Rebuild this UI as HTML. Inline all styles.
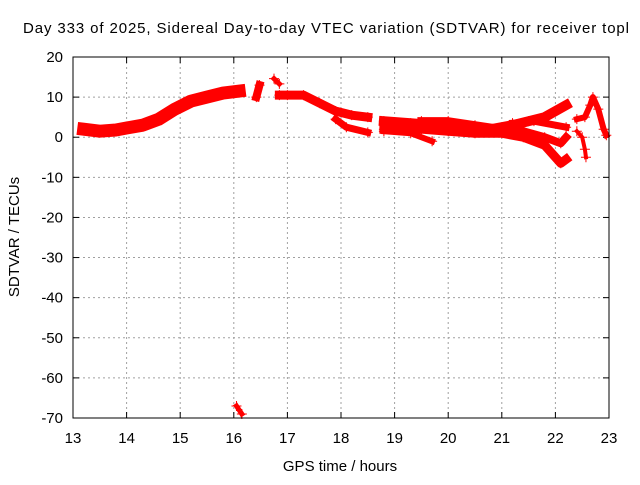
<!DOCTYPE html>
<html><head><meta charset="utf-8"><style>
body{margin:0;background:#fff;}
svg text{font-family:"Liberation Sans",sans-serif;font-size:15px;fill:#000;}
</style></head><body>
<svg width="640" height="480" xmlns="http://www.w3.org/2000/svg">
<text x="23" y="33" textLength="606" lengthAdjust="spacing">Day 333 of 2025, Sidereal Day-to-day VTEC variation (SDTVAR) for receiver topl</text>
<g id="grid"></g>
<g id="ticks"></g>
<g id="marks"></g>
<rect x="73" y="57" width="536" height="361" fill="none" stroke="#000" stroke-width="1"/>
<text x="340" y="471" text-anchor="middle">GPS time / hours</text>
<text transform="translate(19,237) rotate(-90)" text-anchor="middle">SDTVAR / TECUs</text>
</svg>
<script>
const xTicks=[13,14,15,16,17,18,19,20,21,22,23];
const yTicks=[20,10,0,-10,-20,-30,-40,-50,-60,-70];
const trackMain=[[13.2,2],[13.5,1.5],[13.8,1.8],[14.0,2.3],[14.3,3],[14.6,4.5],[14.9,7],[15.2,9],[15.5,10],[15.8,11],[16.1,11.5]];
const trackGap1=[[16.42,10],[16.48,13]];
const trackGap2=[[16.75,14.6],[16.85,13.3]];
const trackB=[[16.85,10.5],[17.0,10.5],[17.3,10.5],[17.6,8.5],[17.9,6.5],[18.2,5.5],[18.5,5]];
const trackB2=[[17.9,4.5],[18.1,2.5],[18.5,1.2]];
const trackC=[[18.8,4],[19.3,3.5],[19.8,3],[20.3,2],[20.8,2],[21.2,3],[21.5,4],[21.8,5],[22.2,8]];
const trackD=[[18.8,2],[19.5,2],[20.0,1.5],[20.5,1],[21.0,1],[21.4,0],[21.8,-2],[22.0,-5],[22.1,-6.5],[22.2,-5.5]];
const trackD2=[[18.8,1.5],[19.3,1],[19.7,-1]];
const trackE=[[19.5,4],[20.0,4],[20.5,3],[21.0,2],[21.4,1.5],[21.8,0],[22.1,-1.5],[22.2,0]];
const trackF=[[21.2,3.5],[21.6,4],[22.2,2.5]];
const trackR1=[[22.4,4.5],[22.55,5],[22.65,8],[22.7,10],[22.8,7],[22.9,2],[22.95,0.5]];
const trackR2=[[22.4,1.5],[22.5,0],[22.55,-3],[22.57,-5]];
const trackOut=[[16.05,-67],[16.15,-69]];
const tracks=[trackMain,trackGap1,trackGap2,trackB,trackB2,trackC,trackD,trackD2,trackE,trackF,trackR1,trackR2,trackOut];
const widths=[13,8,5,9,7,10,9,6,8,7,6,4,5];
const X=t=>73+(t-13)*53.6, Y=v=>57+(20-v)*361/90;
const NS='http://www.w3.org/2000/svg';
const grid=document.getElementById('grid'),tk=document.getElementById('ticks'),mk=document.getElementById('marks');
function mkEl(tag,attrs,parent){const e=document.createElementNS(NS,tag);for(const k in attrs)e.setAttribute(k,attrs[k]);parent.appendChild(e);return e;}
xTicks.forEach(t=>{
 if(t>13&&t<23){const g=mkEl('line',{x1:X(t),x2:X(t),y1:57,y2:418,stroke:'#a0a0a0','stroke-dasharray':'2,3'},grid);
 
 }
 mkEl('line',{x1:X(t),x2:X(t),y1:418,y2:412,stroke:'#000'},tk);
 mkEl('line',{x1:X(t),x2:X(t),y1:57,y2:63,stroke:'#000'},tk);
 const l=mkEl('text',{x:X(t),y:443,'text-anchor':'middle'},tk);l.textContent=t;
 
 
});
yTicks.forEach(v=>{
 if(v<20&&v>-70){const g=mkEl('line',{x1:73,x2:609,y1:Y(v),y2:Y(v),stroke:'#a0a0a0','stroke-dasharray':'2,3'},grid);
 
 }
 mkEl('line',{x1:73,x2:79,y1:Y(v),y2:Y(v),stroke:'#000'},tk);
 mkEl('line',{x1:609,x2:603,y1:Y(v),y2:Y(v),stroke:'#000'},tk);
 const l=mkEl('text',{x:63,y:Y(v)+5,'text-anchor':'end'},tk);l.textContent=v;
 
 
});
tracks.forEach((tr,i)=>{
 const p=mkEl('polyline',{points:tr.map(d=>X(d[0])+','+Y(d[1])).join(' '),fill:'none',stroke:'#ff0000','stroke-width':widths[i],'stroke-linejoin':'round','stroke-linecap':'square'},mk);
 
 
 tr.forEach(d=>{const x=X(d[0]),y=Y(d[1]);
  const m=mkEl('path',{d:`M${x-5},${y}H${x+5}M${x},${y-5}V${y+5}`,stroke:'#ff0000','stroke-width':1},mk);
  
  
 });
});
</script>
</body></html>
